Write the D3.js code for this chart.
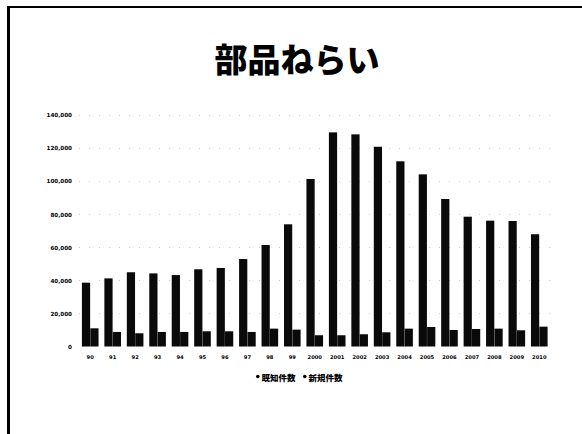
<!DOCTYPE html>
<html>
<head>
<meta charset="utf-8">
<script src="https://cdn.jsdelivr.net/npm/d3@7/dist/d3.min.js"></script>
<style>
  html, body { margin: 0; padding: 0; background: #fff; }
  svg { display: block; }
</style>
</head>
<body>
<svg id="chart" width="582" height="434"></svg>
<script>
const categories = ["90","91","92","93","94","95","96","97","98","99","2000","2001","2002","2003","2004","2005","2006","2007","2008","2009","2010"];
const seriesA = [38600,41200,44900,44200,43200,46700,47500,52900,61400,73900,101300,129500,128300,120800,112000,104100,89200,78500,76100,75900,67900];
const seriesB = [11000,8800,8000,8800,8800,9200,9200,8800,10800,10200,6800,6800,7400,8600,10800,11800,10000,10600,10800,9800,12000];
const seriesNames = ["既知件数","新規件数"];
const yTicks = [0,20000,40000,60000,80000,100000,120000,140000];
const titleText = "部品ねらい";

const svg = d3.select("#chart");
const W = 582, H = 434;

svg.append("rect").attr("width", W).attr("height", H).attr("fill", "#fff");

// slide frame (top and left edges visible in scan)
svg.append("line").attr("x1", 7).attr("x2", W).attr("y1", 7).attr("y2", 7)
  .attr("stroke", "#000").attr("stroke-width", 2);
svg.append("line").attr("x1", 8.5).attr("x2", 8.5).attr("y1", 6).attr("y2", H)
  .attr("stroke", "#000").attr("stroke-width", 3);

// title
svg.append("text").attr("x", 297).attr("y", 58)
  .attr("text-anchor", "middle").attr("dominant-baseline", "central")
  .attr("font-family", "'Noto Sans CJK JP', sans-serif")
  .attr("font-weight", 900).attr("font-size", 33).attr("fill", "#000")
  .text(titleText);

const y = d3.scaleLinear().domain([0, 140000]).range([346.5, 115]);
const x = d3.scaleBand().domain(categories).range([79, 550.5]).paddingInner(0.26).paddingOuter(0.13);
const xs = d3.scaleBand().domain([0, 1]).range([0, x.bandwidth()]).paddingInner(0.02);

// faint dotted gridlines
svg.append("g").selectAll("line").data(yTicks.slice(1)).join("line")
  .attr("x1", 79).attr("x2", 550.5)
  .attr("y1", d => Math.round(y(d)) + 0.5).attr("y2", d => Math.round(y(d)) + 0.5)
  .attr("stroke", "#d0d0d0").attr("stroke-width", 1).attr("stroke-dasharray", "1,9");

// y axis labels
const yAxis = d3.axisLeft(y).tickValues(yTicks).tickSize(0).tickPadding(0)
  .tickFormat(d3.format(","));
const gy = svg.append("g").attr("transform", "translate(72,0)").call(yAxis);
gy.select(".domain").remove();
gy.selectAll("text").attr("font-family", "'DejaVu Sans', sans-serif")
  .attr("font-weight", "bold").attr("font-size", 5.6).attr("fill", "#000");

// x axis labels
const xAxis = d3.axisBottom(x).tickSize(0).tickPadding(0);
const gx = svg.append("g").attr("transform", "translate(0,355)").call(xAxis);
gx.select(".domain").remove();
gx.selectAll("text").attr("font-family", "'DejaVu Sans', sans-serif")
  .attr("font-weight", "bold").attr("font-size", 5.2).attr("fill", "#000");

// bars
const groups = svg.append("g").selectAll("g").data(categories).join("g")
  .attr("transform", d => `translate(${x(d)},0)`);
groups.append("rect")
  .attr("x", xs(0)).attr("width", xs.bandwidth())
  .attr("y", (d, i) => y(seriesA[i])).attr("height", (d, i) => y(0) - y(seriesA[i]))
  .attr("fill", "#0a0a0a");
groups.append("rect")
  .attr("x", xs(1)).attr("width", xs.bandwidth())
  .attr("y", (d, i) => y(seriesB[i])).attr("height", (d, i) => y(0) - y(seriesB[i]))
  .attr("fill", "#0a0a0a");

// legend
const legend = svg.append("g");
const legX = [256, 303];
seriesNames.forEach((n, i) => {
  legend.append("circle").attr("cx", legX[i] + 1.8).attr("cy", 376.5).attr("r", 1.8).attr("fill", "#000");
  legend.append("text").attr("x", legX[i] + 5.5).attr("y", 376.5)
    .attr("dominant-baseline", "central")
    .attr("font-family", "'Noto Sans CJK JP', sans-serif")
    .attr("font-weight", 900).attr("font-size", 8.5).attr("fill", "#000")
    .text(n);
});
</script>
</body>
</html>
